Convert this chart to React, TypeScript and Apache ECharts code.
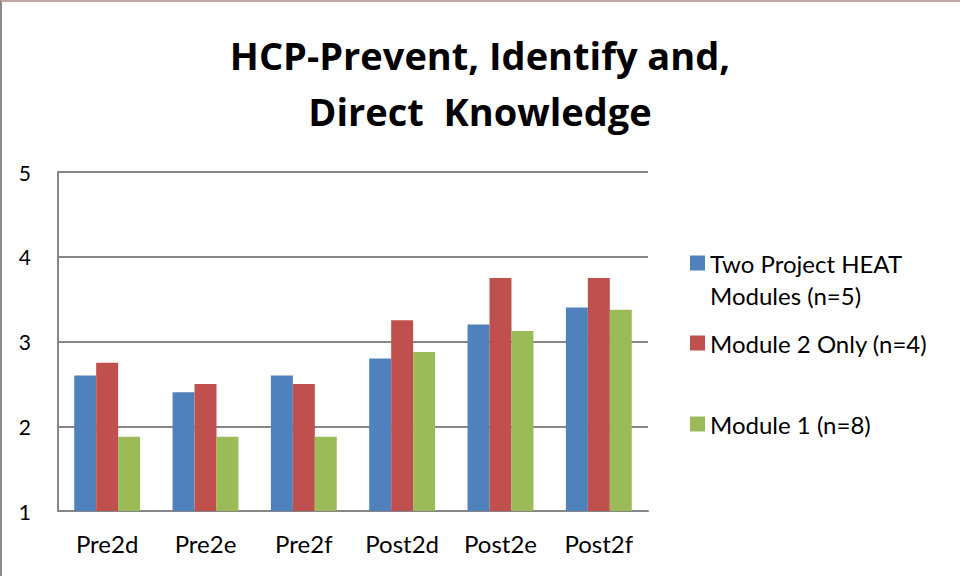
import React, { useEffect, useRef } from "react";
import * as echarts from "echarts";

const categories = ["Pre2d", "Pre2e", "Pre2f", "Post2d", "Post2e", "Post2f"];
const seriesNames = ["Two Project HEAT Modules (n=5)", "Module 2 Only (n=4)", "Module 1 (n=8)"];
const twoProject = [2.6, 2.4, 2.6, 2.8, 3.2, 3.4];
const module2Only = [2.75, 2.5, 2.5, 3.25, 3.75, 3.75];
const module1 = [1.875, 1.875, 1.875, 2.875, 3.125, 3.375];
const colors = ["#4F81BD", "#C0504D", "#9BBB59"];
const titleText = "HCP-Prevent, Identify and,\nDirect  Knowledge";

const FONT = "Lato";

export default function App() {
  const ref = useRef<HTMLDivElement>(null);
  useEffect(() => {
    if (!ref.current) return;
    const chart = echarts.init(ref.current, null, { renderer: "svg" });
    const legendBase = {
      orient: "vertical",
      left: 690,
      padding: 0,
      itemWidth: 15,
      itemHeight: 15,
      icon: "rect",
      selectedMode: false,
      textStyle: { fontFamily: FONT, fontSize: 24, color: "#000", lineHeight: 32 },
    };
    chart.setOption({
      animation: false,
      backgroundColor: "#fff",
      color: colors,
      title: {
        text: titleText,
        left: "center",
        top: 27,
        padding: 0,
        textStyle: { fontFamily: "Open Sans", fontSize: 38, fontWeight: "bold", color: "#000", lineHeight: 56 },
      },
      legend: [
        {
          ...legendBase,
          top: 215,
          data: [seriesNames[0]],
          formatter: () => " \nTwo Project HEAT\nModules (n=5)",
        },
        { ...legendBase, top: 327, data: [seriesNames[1]] },
        { ...legendBase, top: 408, data: [seriesNames[2]] },
      ],
      grid: { left: 58, right: 312, top: 172, bottom: 65, containLabel: false },
      xAxis: {
        type: "category",
        data: categories,
        axisLine: { lineStyle: { color: "#868686", width: 2 } },
        axisTick: { show: false },
        axisLabel: { fontFamily: FONT, fontSize: 24, color: "#000", margin: 20 },
      },
      yAxis: {
        type: "value",
        min: 1,
        max: 5,
        interval: 1,
        axisLine: { show: true, lineStyle: { color: "#868686", width: 2 } },
        axisTick: { show: false },
        splitLine: { lineStyle: { color: "#868686", width: 2 } },
        axisLabel: { fontFamily: FONT, fontSize: 21, color: "#000", margin: 27 },
      },
      series: [
        { name: seriesNames[0], type: "bar", data: twoProject, barGap: "0%", barCategoryGap: "33%" },
        { name: seriesNames[1], type: "bar", data: module2Only, barGap: "0%", barCategoryGap: "33%" },
        { name: seriesNames[2], type: "bar", data: module1, barGap: "0%", barCategoryGap: "33%" },
      ],
    });
    return () => chart.dispose();
  }, []);
  return (
    <div style={{ position: "absolute", left: 0, top: 0, width: 960, height: 576, background: "#fff" }}>
      <div ref={ref} style={{ position: "absolute", left: 0, top: 0, width: 960, height: 576 }} />
      <div
        style={{
          position: "absolute",
          left: 0,
          top: 0,
          width: 960,
          height: 576,
          boxSizing: "border-box",
          borderLeft: "2px solid #8a8a8a",
          borderTop: "2px solid #c4a4a4",
          pointerEvents: "none",
        }}
      />
    </div>
  );
}
